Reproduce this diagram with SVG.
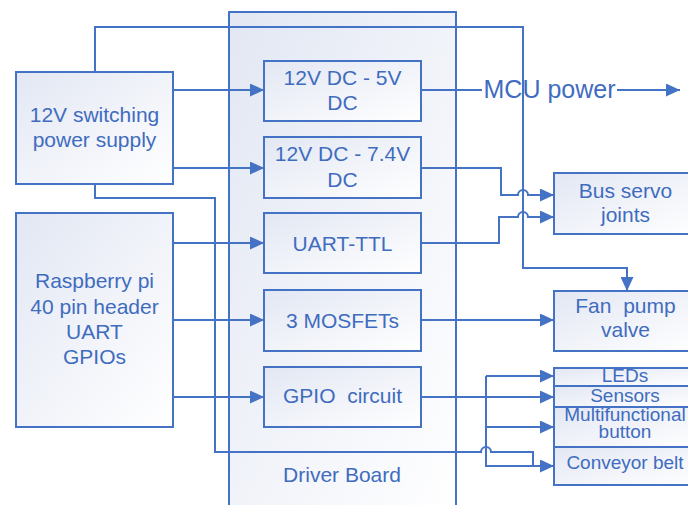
<svg xmlns="http://www.w3.org/2000/svg" width="688" height="505" viewBox="0 0 688 505">
<defs>
<linearGradient id="g" x1="0" y1="0" x2="1" y2="1">
<stop offset="0" stop-color="#E2E7F3"/>
<stop offset="1" stop-color="#FFFFFF"/>
</linearGradient>
<marker id="ar" markerWidth="14" markerHeight="13" refX="14" refY="6.5" orient="auto" markerUnits="userSpaceOnUse">
<path d="M0,0 L14,6.5 L0,13 Z" fill="#4472C4"/>
</marker>
<style>
.box{fill:url(#g);stroke:#4472C4;stroke-width:2}
.ln{fill:none;stroke:#4472C4;stroke-width:2}
.t{font-family:"Liberation Sans",Arial,sans-serif;font-size:21px;fill:#3F6CBF;text-anchor:middle}
.s{font-size:19px}
</style>
</defs>
<rect width="688" height="505" fill="#FFFFFF"/>
<g id="driver-board">
<rect class="box" x="229" y="12" width="227" height="510"/>
<text class="t" x="342" y="482">Driver Board</text>
</g>
<g id="power-supply">
<rect class="box" x="16" y="72" width="157" height="112"/>
<text class="t" x="94.5" y="122">12V switching</text>
<text class="t" x="94.5" y="147">power supply</text>
</g>
<g id="raspberry-pi">
<rect class="box" x="16" y="213" width="157" height="214"/>
<text class="t" x="94.5" y="288">Raspberry pi</text>
<text class="t" x="94.5" y="314">40 pin header</text>
<text class="t" x="94.5" y="339">UART</text>
<text class="t" x="94.5" y="364">GPIOs</text>
</g>
<g id="dc5v">
<rect class="box" x="264" y="61" width="157" height="60"/>
<text class="t" x="342.5" y="85">12V DC - 5V</text>
<text class="t" x="342.5" y="110">DC</text>
</g>
<g id="dc74v">
<rect class="box" x="264" y="137" width="157" height="61"/>
<text class="t" x="342.5" y="161">12V DC - 7.4V</text>
<text class="t" x="342.5" y="187">DC</text>
</g>
<g id="uart-ttl">
<rect class="box" x="264" y="213" width="157" height="60"/>
<text class="t" x="342.5" y="251">UART-TTL</text>
</g>
<g id="mosfets">
<rect class="box" x="264" y="290" width="157" height="61"/>
<text class="t" x="342.5" y="327.5">3 MOSFETs</text>
</g>
<g id="gpio-circuit">
<rect class="box" x="264" y="367" width="157" height="60"/>
<text class="t" x="342.5" y="403" xml:space="preserve">GPIO  circuit</text>
</g>
<g id="bus-servo">
<rect class="box" x="554" y="173" width="145" height="61"/>
<text class="t" x="625.5" y="198">Bus servo</text>
<text class="t" x="625.5" y="222">joints</text>
</g>
<g id="fan-pump">
<rect class="box" x="554" y="291" width="145" height="60"/>
<text class="t" x="625.5" y="313" xml:space="preserve">Fan  pump</text>
<text class="t" x="625.5" y="337">valve</text>
</g>
<g id="leds">
<rect class="box" x="554" y="368" width="145" height="18"/>
<text class="t s" x="625" y="382">LEDs</text>
</g>
<g id="sensors">
<rect class="box" x="554" y="386" width="145" height="21"/>
<text class="t s" x="625" y="402">Sensors</text>
</g>
<g id="button">
<rect class="box" x="554" y="407" width="145" height="40"/>
<text class="t s" x="625" y="421">Multifunctional</text>
<text class="t s" x="625" y="438">button</text>
</g>
<g id="conveyor">
<rect class="box" x="554" y="447" width="145" height="38"/>
<text class="t s" x="625" y="469">Conveyor belt</text>
</g>
<g id="mcu-label">
<text class="t" x="549.5" y="98" style="font-size:25px">MCU power</text>
</g>
<g id="connectors">
<path class="ln" d="M173,90 H264" marker-end="url(#ar)"/>
<path class="ln" d="M173,168 H264" marker-end="url(#ar)"/>
<path class="ln" d="M173,243 H264" marker-end="url(#ar)"/>
<path class="ln" d="M173,320 H264" marker-end="url(#ar)"/>
<path class="ln" d="M173,397 H264" marker-end="url(#ar)"/>
<path class="ln" d="M95,72 V27 H523 V268 H627 V291" marker-end="url(#ar)"/>
<path class="ln" d="M95,184 V198 H215 V452 H481 A5,5 0 0 1 491,452 H533 V466 H554" marker-end="url(#ar)"/>
<path class="ln" d="M421,90 H482"/>
<path class="ln" d="M617,90 H680" marker-end="url(#ar)"/>
<path class="ln" d="M421,168 H501 V195 H518 A5,5 0 0 1 528,195 H554" marker-end="url(#ar)"/>
<path class="ln" d="M421,243 H499 V217 H518 A5,5 0 0 1 528,217 H554" marker-end="url(#ar)"/>
<path class="ln" d="M421,320 H554" marker-end="url(#ar)"/>
<path class="ln" d="M421,397 H554" marker-end="url(#ar)"/>
<path class="ln" d="M486,376 V466 H533"/>
<path class="ln" d="M486,376 H554" marker-end="url(#ar)"/>
<path class="ln" d="M486,427 H554" marker-end="url(#ar)"/>
</g>
</svg>
